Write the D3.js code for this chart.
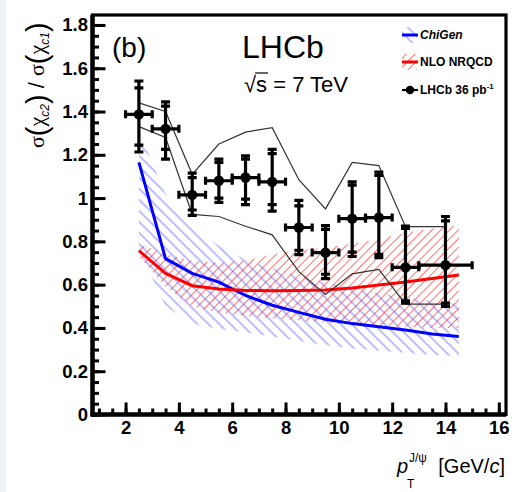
<!DOCTYPE html>
<html>
<head>
<meta charset="utf-8">
<script src="https://cdn.jsdelivr.net/npm/d3@7"></script>
<style>
  html, body { margin: 0; padding: 0; background: #fff; }
  svg { display: block; }
</style>
</head>
<body>
<script>
// ---- LHCb chi_c2 / chi_c1 cross-section ratio vs pT(J/psi) ----
const binLo   = [2, 3, 4, 5, 6, 7, 8, 9, 10, 11, 12, 13];
const binHi   = [3, 4, 5, 6, 7, 8, 9, 10, 11, 12, 13, 15];
const binMid  = [2.5, 3.5, 4.5, 5.5, 6.5, 7.5, 8.5, 9.5, 10.5, 11.5, 12.5, 14];
const ratio   = [1.387, 1.32, 1.015, 1.08, 1.095, 1.075, 0.864, 0.748, 0.905, 0.91, 0.68, 0.69];
const statUp  = [0.122, 0.105, 0.08, 0.085, 0.085, 0.13, 0.10, 0.107, 0.155, 0.195, 0.18, 0.205];
const statDn  = [0.142, 0.095, 0.07, 0.08, 0.10, 0.105, 0.105, 0.10, 0.155, 0.17, 0.155, 0.175];
const totUp   = [0.154, 0.125, 0.10, 0.10, 0.10, 0.15, 0.125, 0.125, 0.17, 0.21, 0.19, 0.225];
const totDn   = [0.174, 0.14, 0.095, 0.10, 0.125, 0.135, 0.125, 0.12, 0.175, 0.185, 0.165, 0.19];
// polarisation envelope of the measurement
const polHigh = [1.44, 1.40, 1.11, 1.25, 1.305, 1.325, 1.085, 0.95, 1.165, 1.15, 0.868, 0.868];
const polLow  = [1.33, 1.28, 0.925, 0.915, 0.87, 0.83, 0.66, 0.555, 0.65, 0.67, 0.51, 0.51];

// theory predictions
const thPt        = [2.5, 3.5, 4.5, 5.5, 6.5, 7.5, 8.5, 9.5, 10.5, 11.5, 12.5, 13.5, 14.5];
const chigen      = [1.165, 0.72, 0.652, 0.612, 0.55, 0.505, 0.472, 0.44, 0.42, 0.405, 0.39, 0.372, 0.36];
const chigenHigh  = [1.31, 1.02, 0.87, 0.78, 0.715, 0.675, 0.64, 0.61, 0.58, 0.56, 0.54, 0.525, 0.51];
const chigenLow   = [0.76, 0.50, 0.42, 0.395, 0.38, 0.36, 0.34, 0.32, 0.305, 0.295, 0.285, 0.275, 0.27];
const nrqcd       = [0.757, 0.652, 0.595, 0.58, 0.573, 0.572, 0.573, 0.575, 0.585, 0.598, 0.612, 0.628, 0.645];
const nrqcdHigh   = [0.79, 0.74, 0.71, 0.70, 0.71, 0.74, 0.76, 0.77, 0.79, 0.81, 0.84, 0.86, 0.875];
const nrqcdLow    = [0.73, 0.59, 0.50, 0.47, 0.455, 0.445, 0.435, 0.425, 0.415, 0.41, 0.405, 0.40, 0.40];

const xMajor = [2, 4, 6, 8, 10, 12, 14, 16];
const xMinor = d3.range(1, 16.01, 0.5);
const yMajor = [0, 0.2, 0.4, 0.6, 0.8, 1, 1.2, 1.4, 1.6, 1.8];
const yMinor = d3.range(0, 1.801, 0.05);

const W = 520, H = 492;
const SANS = "'Liberation Sans', Arial, Helvetica, sans-serif";
const SERIF = "'Liberation Serif', 'Times New Roman', serif";

const svg = d3.select("body").append("svg")
  .attr("width", W).attr("height", H)
  .attr("viewBox", `0 0 ${W} ${H}`);

svg.append("rect").attr("width", W).attr("height", H).attr("fill", "#fff");
// window edge strip on the left
svg.append("rect").attr("x", 0).attr("y", 0).attr("width", 6).attr("height", H).attr("fill", "#eef1f4");

const x = d3.scaleLinear().domain([0.76, 16.27]).range([92.5, 506]);
const y = d3.scaleLinear().domain([0, 1.846]).range([414.5, 15]);

// hatch patterns
const defs = svg.append("defs");
function hatch(id, color, angle, gap, op) {
  const p = defs.append("pattern").attr("id", id)
    .attr("patternUnits", "userSpaceOnUse")
    .attr("width", gap).attr("height", gap)
    .attr("patternTransform", `rotate(${angle})`);
  p.append("line").attr("x1", gap / 2).attr("y1", 0).attr("x2", gap / 2).attr("y2", gap)
    .attr("stroke", color).attr("stroke-width", 1).attr("stroke-opacity", op);
}
hatch("hatchBlue", "#4646ff", -45, 7.8, 0.7);
hatch("hatchRed", "#ff3030", 45, 6.2, 0.7);

svg.append("clipPath").attr("id", "plotClip").append("rect")
  .attr("x", x(0.76)).attr("y", y(1.846)).attr("width", x(16.27) - x(0.76)).attr("height", y(0) - y(1.846));

const plot = svg.append("g").attr("clip-path", "url(#plotClip)");

const band = (hi, lo) => d3.area()
  .x((d, i) => x(thPt[i])).y0((d, i) => y(lo[i])).y1((d, i) => y(hi[i]));
const curve = d3.line().x((d, i) => x(thPt[i])).y(d => y(d));

plot.append("path").datum(thPt).attr("d", band(chigenHigh, chigenLow)).attr("fill", "url(#hatchBlue)");
plot.append("path").datum(thPt).attr("d", band(nrqcdHigh, nrqcdLow)).attr("fill", "url(#hatchRed)");
plot.append("path").datum(chigen).attr("d", curve).attr("fill", "none").attr("stroke", "#0000ff").attr("stroke-width", 3);
plot.append("path").datum(nrqcd).attr("d", curve).attr("fill", "none").attr("stroke", "#ff0000").attr("stroke-width", 3);

// polarisation envelope
const env = d3.line().x((d, i) => x(binMid[i])).y(d => y(d));
[polHigh, polLow].forEach(arr => {
  plot.append("path").datum(arr).attr("d", env).attr("fill", "none")
    .attr("stroke", "#333").attr("stroke-width", 1.2);
});

// data points with stat and total error bars
const pts = plot.append("g").attr("stroke", "#000");
binMid.forEach((m, i) => {
  const g = pts.append("g");
  const cx = x(m), cy = y(ratio[i]);
  g.append("line").attr("x1", cx).attr("x2", cx)
    .attr("y1", y(ratio[i] + totUp[i])).attr("y2", y(ratio[i] - totDn[i])).attr("stroke-width", 3.2);
  g.append("line").attr("x1", x(binLo[i])).attr("x2", x(binHi[i]))
    .attr("y1", cy).attr("y2", cy).attr("stroke-width", 3.2);
  [ratio[i] + totUp[i], ratio[i] + statUp[i], ratio[i] - statDn[i], ratio[i] - totDn[i]].forEach(v => {
    g.append("line").attr("x1", cx - 4.5).attr("x2", cx + 4.5)
      .attr("y1", y(v)).attr("y2", y(v)).attr("stroke-width", 3.2);
  });
  [binLo[i], binHi[i]].forEach(v => {
    g.append("line").attr("x1", x(v)).attr("x2", x(v))
      .attr("y1", cy - 4).attr("y2", cy + 4).attr("stroke-width", 3.2);
  });
  g.append("circle").attr("cx", cx).attr("cy", cy).attr("r", 5.2).attr("fill", "#000").attr("stroke", "none");
});

// axes
function styleAxis(g) {
  g.select(".domain").remove();
  g.selectAll(".tick line").attr("stroke", "#000").attr("stroke-width", 3);
  g.selectAll(".tick text").attr("fill", "#000")
    .style("font-family", SANS).style("font-weight", "bold").style("font-size", "18.5px");
}
svg.append("g").attr("transform", `translate(0,${y(0)})`)
  .call(d3.axisBottom(x).tickValues(xMinor).tickSize(-6).tickFormat(""))
  .call(styleAxis);
svg.append("g").attr("transform", `translate(0,${y(0)})`)
  .call(d3.axisBottom(x).tickValues(xMajor).tickSize(-12).tickPadding(6).tickFormat(d3.format("d")))
  .call(styleAxis);
svg.append("g").attr("transform", `translate(${x(0.76)},0)`)
  .call(d3.axisLeft(y).tickValues(yMinor).tickSize(-6.5).tickFormat(""))
  .call(styleAxis);
svg.append("g").attr("transform", `translate(${x(0.76)},0)`)
  .call(d3.axisLeft(y).tickValues(yMajor).tickSize(-13).tickPadding(4.5).tickFormat(d => d3.format("")(d)))
  .call(styleAxis);

// frame
svg.append("rect").attr("x", x(0.76)).attr("y", y(1.846))
  .attr("width", x(16.27) - x(0.76)).attr("height", y(0) - y(1.846))
  .attr("fill", "none").attr("stroke", "#000").attr("stroke-width", 3.2);
svg.append("line").attr("x1", x(0.76)).attr("x2", x(0.76)).attr("y1", y(1.846)).attr("y2", y(0) + 2)
  .attr("stroke", "#000").attr("stroke-width", 4.5);
svg.append("line").attr("x1", x(0.76) - 2).attr("x2", x(16.27)).attr("y1", y(0)).attr("y2", y(0))
  .attr("stroke", "#000").attr("stroke-width", 4.5);

// labels inside the frame
svg.append("text").attr("x", 112).attr("y", 57).text("(b)")
  .style("font-family", SANS).style("font-size", "28px");
svg.append("text").attr("x", 242).attr("y", 58).text("LHCb")
  .style("font-family", SANS).style("font-size", "32px");
const energy = svg.append("text").attr("x", 244).attr("y", 92)
  .style("font-family", SANS).style("font-size", "22px");
energy.append("tspan").text("\u221A");
energy.append("tspan").text("s = 7 TeV");
{
  const node = energy.node();
  const x0 = 244 + node.getSubStringLength(0, 1);
  const x1 = x0 + node.getSubStringLength(1, 1);
  svg.append("line").attr("x1", x0 - 1).attr("x2", x1 + 1).attr("y1", 73).attr("y2", 73)
    .attr("stroke", "#000").attr("stroke-width", 1.2);
}

// legend
const leg = svg.append("g");
const legRows = [
  { y: 35, fill: "url(#hatchBlue)", stroke: "#0000ff", label: "ChiGen", italic: true },
  { y: 62, fill: "url(#hatchRed)", stroke: "#ff0000", label: "NLO NRQCD", italic: false },
  { y: 90, fill: null, stroke: "#000", label: "LHCb 36 pb", italic: false, marker: true }
];
legRows.forEach(r => {
  if (r.fill) leg.append("rect").attr("x", 402).attr("y", r.y - 8).attr("width", 15).attr("height", 16).attr("fill", r.fill);
  leg.append("line").attr("x1", 402).attr("x2", 418).attr("y1", r.y).attr("y2", r.y)
    .attr("stroke", r.stroke).attr("stroke-width", r.marker ? 2.2 : 3);
  if (r.marker) leg.append("circle").attr("cx", 410).attr("cy", r.y).attr("r", 4.2).attr("fill", "#000");
  const t = leg.append("text").attr("x", 420).attr("y", r.y + 4.3)
    .style("font-family", SANS).style("font-weight", "bold").style("font-size", "12px")
    .style("font-style", r.italic ? "italic" : "normal");
  t.append("tspan").text(r.label);
  if (r.marker) t.append("tspan").attr("dy", -5).style("font-size", "8px").text("-1");
});

// y-axis title
const yt = svg.append("text").attr("transform", "translate(44,148) rotate(-90)")
  .style("font-family", SANS).style("font-size", "22px").attr("fill", "#000");
function ratioPart(sub) {
  yt.append("tspan").style("font-family", SERIF).text("\u03C3");
  yt.append("tspan").attr("dy", 3).style("font-size", "29px").style("font-weight", "300").text("(");
  yt.append("tspan").attr("dy", -3).style("font-family", SERIF).text("\u03C7");
  yt.append("tspan").attr("dy", 5).style("font-size", "12px").style("font-style", "italic").text(sub);
  yt.append("tspan").attr("dy", -2).style("font-size", "29px").style("font-weight", "300").text(")");
  yt.append("tspan").attr("dy", -3).text("\u00A0");
}
ratioPart("c2");
yt.append("tspan").text("/\u00A0");
ratioPart("c1");

// x-axis title
svg.append("text").attr("x", 397).attr("y", 473).text("p")
  .style("font-family", SANS).style("font-size", "20px").style("font-style", "italic");
svg.append("text").attr("x", 409).attr("y", 462).text("J/\u03C8")
  .style("font-family", SANS).style("font-size", "12px");
svg.append("text").attr("x", 407).attr("y", 488).text("T")
  .style("font-family", SANS).style("font-size", "12px");
const xt = svg.append("text").attr("x", 505).attr("y", 473).attr("text-anchor", "end")
  .style("font-family", SANS).style("font-size", "20px");
xt.append("tspan").text("[GeV/");
xt.append("tspan").style("font-style", "italic").text("c");
xt.append("tspan").text("]");
</script>
</body>
</html>
